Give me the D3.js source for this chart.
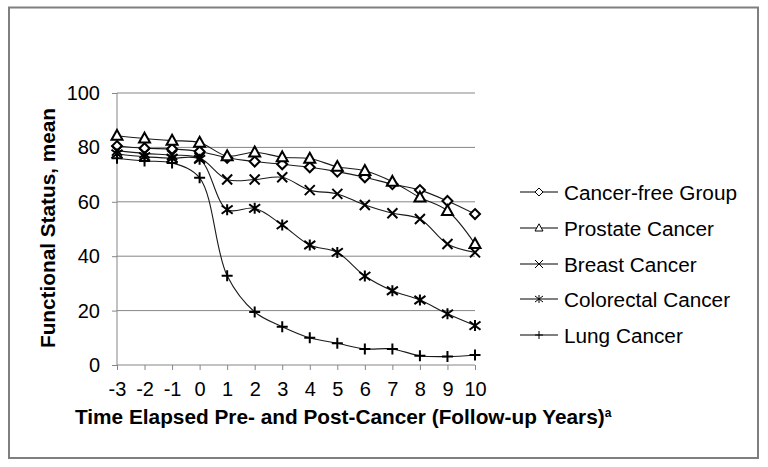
<!DOCTYPE html>
<html><head><meta charset="utf-8">
<script src="https://cdn.jsdelivr.net/npm/d3@7"></script>
<style>body{margin:0;background:#fff}svg{display:block}text{font-family:Arial,"Liberation Sans",sans-serif}</style>
</head><body><svg id="c" width="768" height="467"></svg>
<script>
const years = [-3,-2,-1,0,1,2,3,4,5,6,7,8,9,10];
const cancerFree = [80.5,79.7,79.4,78.5,76.2,74.8,73.8,72.7,71.1,69,66.5,64.3,60.3,55.5];
const prostate   = [84.3,83.3,82.5,81.8,76.8,78.2,76.4,75.9,72.9,71.4,67.4,61.6,56.7,44.5];
const breast     = [78.8,77.8,77.2,76.2,68.2,68.2,69,64.3,62.9,58.8,55.8,53.7,44.5,41.4];
const colorectal = [77.6,76.6,76,75.6,57.1,57.6,51.5,44.1,41.4,32.7,27.3,23.9,18.8,14.5];
const lung       = [76,75,74.3,68.8,32.8,19.5,14.1,10,8,5.9,5.9,3.4,3.1,3.7];
const seriesNames = ["Cancer-free Group","Prostate Cancer","Breast Cancer","Colorectal Cancer","Lung Cancer"];
const seriesValues = [cancerFree, prostate, breast, colorectal, lung];
const markerTypes = ["diamond","triangle","x","star","plus"];
const yTicks = [0,20,40,60,80,100];

const FONT = "Arial, Liberation Sans, sans-serif";
const svg = d3.select("#c");
svg.append("rect").attr("x",9).attr("y",7.5).attr("width",749).attr("height",450.5)
  .attr("fill","#fff").attr("stroke","#7f7f7f").attr("stroke-width",2);

const x = d3.scaleLinear().domain([-3,10]).range([117,475]);
const y = d3.scaleLinear().domain([0,100]).range([365,93]);

function fit(sel, target){
  const w = sel.node().getComputedTextLength();
  const fs = parseFloat(sel.attr("font-size"));
  sel.attr("font-size", (fs*target/w).toFixed(2));
}

// gridlines
svg.append("g").selectAll("line").data(yTicks.filter(d=>d>0)).join("line")
  .attr("x1",117).attr("x2",475).attr("y1",d=>y(d)).attr("y2",d=>y(d))
  .attr("stroke","#868686").attr("stroke-width",1);

// y axis
const gy = svg.append("g").attr("transform","translate(117,0)")
  .call(d3.axisLeft(y).tickValues(yTicks).tickSize(5).tickPadding(12));
gy.select(".domain").attr("stroke","#868686").attr("d","M0,365V93");
gy.selectAll(".tick line").attr("stroke","#868686");
gy.selectAll("text").attr("font-size",20).attr("fill","#000").attr("font-family",FONT);

// x axis
const gx = svg.append("g").attr("transform","translate(0,365)")
  .call(d3.axisBottom(x).tickValues(years).tickSize(5).tickPadding(12).tickFormat(d=>String(d)));
gx.select(".domain").attr("stroke","#868686").attr("d","M117,0H475");
gx.selectAll(".tick line").attr("stroke","#868686");
gx.selectAll("text").attr("font-size",20).attr("fill","#000").attr("font-family",FONT);

// axis titles
const yt = svg.append("text").attr("transform","translate(55,228) rotate(-90)").attr("text-anchor","middle")
  .attr("font-size",17).attr("font-weight","bold").text("Functional Status, mean");
fit(yt, 240);
const xt = svg.append("text").attr("x",75).attr("y",424).attr("font-size",17).attr("font-weight","bold");
xt.append("tspan").text("Time Elapsed Pre- and Post-Cancer (Follow-up Years)");
fit(xt, 530);
xt.append("tspan").attr("font-size",12).attr("dy",-7).text("a");

function marker(g, type, s, sw){
  if(type==="diamond"){
    g.append("path").attr("d",`M0,${-s}L${s},0L0,${s}L${-s},0Z`).attr("fill","#fff").attr("stroke","#000").attr("stroke-width",sw);
  } else if(type==="triangle"){
    g.append("path").attr("d",`M0,${-s*1.05}L${s},${s*0.75}L${-s},${s*0.75}Z`).attr("fill","#fff").attr("stroke","#000").attr("stroke-width",sw);
  } else if(type==="x"){
    g.append("path").attr("d",`M${-s},${-s}L${s},${s}M${s},${-s}L${-s},${s}`).attr("fill","none").attr("stroke","#000").attr("stroke-width",sw);
  } else if(type==="star"){
    g.append("path").attr("d",`M${-s},${-s*0.75}L${s},${s*0.75}M${s},${-s*0.75}L${-s},${s*0.75}M0,${-s}L0,${s}`).attr("fill","none").attr("stroke","#000").attr("stroke-width",sw);
  } else {
    g.append("path").attr("d",`M${-s},0L${s},0M0,${-s}L0,${s}`).attr("fill","none").attr("stroke","#000").attr("stroke-width",sw);
  }
}

const line = d3.line().x((d,i)=>x(years[i])).y(d=>y(d)).curve(d3.curveCatmullRom.alpha(0.5));
const sizes = [5,5.5,5,5.5,5.5];
seriesValues.forEach((vals,k)=>{
  svg.append("path").attr("d",line(vals)).attr("fill","none").attr("stroke","#1a1a1a").attr("stroke-width",1.1);
});
seriesValues.forEach((vals,k)=>{
  const g = svg.append("g");
  vals.forEach((v,i)=>{
    const mg = g.append("g").attr("transform",`translate(${x(years[i])},${y(v)})`);
    marker(mg, markerTypes[k], sizes[k], 2);
  });
});

// legend
const legY = [192,228,264,299,335];
let legFs = null;
seriesNames.forEach((n,k)=>{
  const g = svg.append("g").attr("transform",`translate(0,${legY[k]})`);
  g.append("line").attr("x1",520).attr("x2",558).attr("y1",0).attr("y2",0).attr("stroke","#000").attr("stroke-width",1);
  const mg = g.append("g").attr("transform","translate(539,0)");
  marker(mg, markerTypes[k], 4, 1);
  const t = g.append("text").attr("x",564).attr("y",7.5).attr("font-size",18).text(n);
  if(k===0){ fit(t,173); legFs = t.attr("font-size"); } else t.attr("font-size",legFs);
});
</script></body></html>
